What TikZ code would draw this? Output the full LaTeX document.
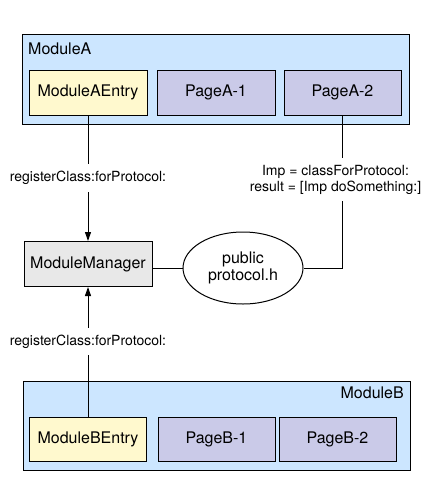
\documentclass[tikz,border=0pt]{standalone}
\usepackage{fontspec}
\setmainfont{TeX Gyre Heros}
\usetikzlibrary{arrows.meta,positioning,shapes.geometric}
\definecolor{modulebg}{HTML}{CCE6FF}
\definecolor{entrybg}{HTML}{FFF9CE}
\definecolor{pagebg}{HTML}{CACAE8}
\definecolor{managerbg}{HTML}{E8E8E8}

\begin{document}
\begin{tikzpicture}[x=1pt,y=-1pt,
  every node/.style={font=\fontsize{16}{17}\selectfont},
  modulebox/.style={draw,line width=1pt,fill=modulebg,minimum width=387pt,minimum height=90pt,inner sep=0pt},
  entrybox/.style={draw,line width=1pt,fill=entrybg,minimum width=118pt,minimum height=45pt,inner sep=0pt},
  pagebox/.style={draw,line width=1pt,fill=pagebg,minimum width=118pt,minimum height=45pt,inner sep=0pt},
  managerbox/.style={draw,line width=1pt,fill=managerbg,minimum width=128pt,minimum height=45pt,inner sep=0pt},
  callnote/.style={fill=white,inner xsep=0pt,inner ysep=7pt,font=\fontsize{14}{16}\selectfont,align=center},
  link/.style={line width=1pt},
  callarrow/.style={link,-{Triangle[width=6pt,length=9pt]}}
]
  \useasboundingbox (0,0) rectangle (432,504);
  % module A
  \node[modulebox] (moda) at (215.5,79) {};
  \node[anchor=west,inner sep=0pt] (modalabel) at (28,49) {ModuleA};
  \node[entrybox] (aentry) at (88,92.5) {ModuleAEntry};
  \node[pagebox] (apage1) at (216,92.5) {PageA-1};
  \node[pagebox,minimum width=117pt] (apage2) at (342.5,92.5) {PageA-2};
  % manager and protocol
  \node[managerbox] (manager) at (88,264) {ModuleManager};
  \node[ellipse,draw,line width=1pt,minimum width=120pt,minimum height=72pt,inner sep=0pt,align=center] (protocol) at (243,268) {public\\protocol.h};
  % module B
  \node[modulebox,minimum height=89pt] (modb) at (216.5,425.5) {};
  \node[anchor=east,inner sep=0pt] (modblabel) at (404,393) {ModuleB};
  \node[entrybox,minimum width=117pt,minimum height=44pt] (bentry) at (88,439) {ModuleBEntry};
  \node[pagebox,minimum width=117pt,minimum height=44pt] (bpage1) at (216.5,439) {PageB-1};
  \node[pagebox,minimum width=117pt,minimum height=44pt] (bpage2) at (337.5,439) {PageB-2};
  % connectors
  \draw[callarrow] (aentry) -- node[callnote] {registerClass:forProtocol:} (manager);
  \draw[callarrow] (bentry) -- node[callnote,pos=0.58] {registerClass:forProtocol:} (manager);
  \draw[link] (manager.east |- protocol.west) -- (protocol.west);
  \draw[link] (apage2) -- node[callnote,pos=0.42,xshift=-7pt] {Imp = classForProtocol:\\result = [Imp doSomething:]} (apage2 |- protocol.east) -- (protocol.east);
\end{tikzpicture}
\end{document}
